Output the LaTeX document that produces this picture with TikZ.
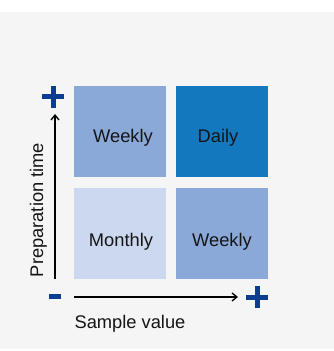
\documentclass[tikz,border=0pt]{standalone}
\usepackage{fontspec}
\setmainfont{Liberation Sans}
\usetikzlibrary{arrows.meta}
\definecolor{bgGrey}{HTML}{F5F5F5}
\definecolor{midBlue}{HTML}{8AA9D8}
\definecolor{darkBlue}{HTML}{1478BE}
\definecolor{lightBlue}{HTML}{CCD8EF}
\definecolor{signBlue}{HTML}{0B3D91}
\definecolor{txt}{HTML}{151515}
\tikzset{
  cell/.style={draw=none, minimum width=92pt, minimum height=91pt, inner sep=0pt, anchor=south west},
  lbl/.style={font=\fontsize{18.3}{20}\selectfont, text=txt, inner sep=0pt, anchor=base},
  axis/.style={line width=1.5pt, draw=black, -{Straight Barb[length=5pt,width=8pt,line width=1.3pt]}},
  sign/.style={fill=signBlue, draw=none}
}
\begin{document}
\begin{tikzpicture}[x=1pt,y=1pt]
\useasboundingbox (0,0) rectangle (334,351);
\fill[white] (0,0) rectangle (334,351);
\fill[bgGrey] (0,2) rectangle (334,339);
% cells
\node[cell, fill=midBlue]   (tl) at (74,174) {};
\node[cell, fill=darkBlue]  (tr) at (176,174) {};
\node[cell, fill=lightBlue] (bl) at (74,72) {};
\node[cell, fill=midBlue]   (br) at (176,72) {};
% labels
\node[lbl] (tlt) at (123,208) {Weekly};
\node[lbl] (trt) at (218,208) {Daily};
\node[lbl] (blt) at (121,104) {Monthly};
\node[lbl] (brt) at (222,104) {Weekly};
% axes
\coordinate (ys) at (55,72);
\coordinate (ye) at (55,237);
\coordinate (xs) at (74,54);
\coordinate (xe) at (238,54);
\draw[axis] (ys) -- (ye);
\draw[axis] (xs) -- (xe);
\node[lbl, rotate=90] (ylab) at (43,141) {Preparation time};
\node[lbl] (xlab) at (130,23) {Sample value};
% signs
\fill[sign] (42,251.5) rectangle (64,256.5);
\fill[sign] (50.5,243) rectangle (55.5,265);
\fill[sign] (246,51) rectangle (268,56);
\fill[sign] (254.5,42.5) rectangle (259.5,64.5);
\fill[sign] (49,52) rectangle (61,56.5);
\end{tikzpicture}
\end{document}
